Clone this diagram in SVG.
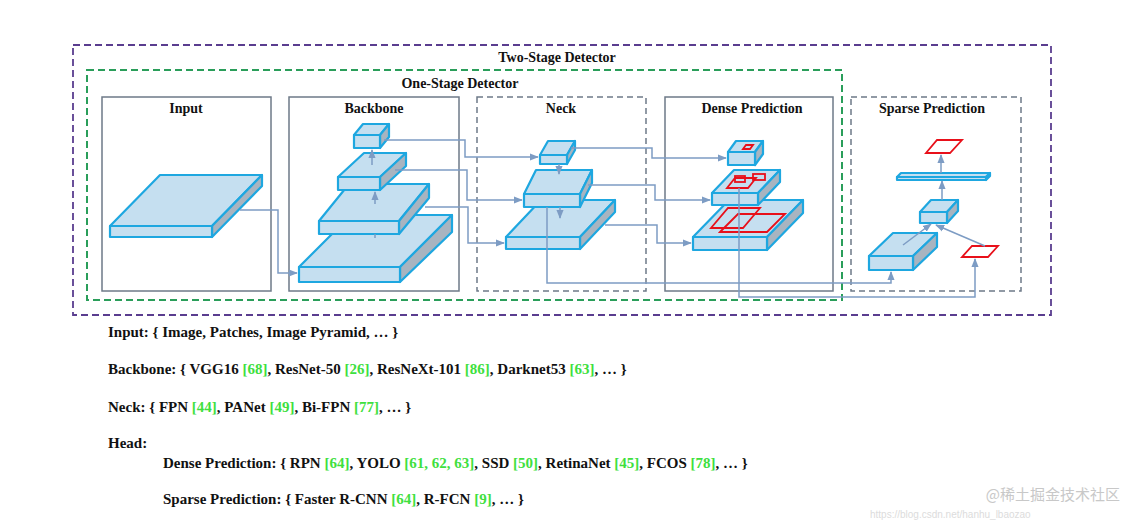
<svg xmlns="http://www.w3.org/2000/svg" width="1135" height="525" viewBox="0 0 1135 525">
<style>
.t{font-family:"Liberation Serif",serif;font-weight:bold;font-size:15px;fill:#111}
.h{font-family:"Liberation Serif",serif;font-weight:bold;font-size:14px;fill:#111;text-anchor:middle}
.g{fill:#3ee03e}
.f{fill:#c5dff0;stroke:#1ea7e0;stroke-width:2.2;stroke-linejoin:round}
.s{fill:#a8b4c0;stroke:#1ea7e0;stroke-width:2.2;stroke-linejoin:round}
.r{fill:none;stroke:#e8101a;stroke-width:1.8}
.c{fill:none;stroke:#7d9cc4;stroke-width:1.5}
.box{fill:none;stroke:#6e7a88;stroke-width:1.5}
.dbox{fill:none;stroke:#6e7a88;stroke-width:1.5;stroke-dasharray:6 4}
</style>
<defs>
<marker id="a" viewBox="0 0 10 10" refX="9" refY="5" markerWidth="6" markerHeight="6" orient="auto"><path d="M0,1 L10,5 L0,9 z" fill="#7d9cc4"/></marker>
</defs>
<rect width="1135" height="525" fill="#fff"/>
<g id="two-stage"><rect x="73" y="45" width="978" height="270" fill="none" stroke="#5a3d8f" stroke-width="1.8" stroke-dasharray="7 4"/><text class="h" x="557" y="62">Two-Stage Detector</text></g>
<g id="one-stage"><rect x="87" y="70" width="755" height="230" fill="none" stroke="#2a9e5a" stroke-width="2" stroke-dasharray="7 4"/><text class="h" x="460" y="88">One-Stage Detector</text></g>
<g id="input"><rect class="box" x="102" y="97" width="169" height="194"/><text class="h" x="186" y="113">Input</text>
<polygon class="f" points="110,226 160,175 262,175 212,226"/><polygon class="s" points="212,226 262,175 262,186 212,237"/><rect class="f" x="110" y="226" width="102" height="11"/></g>
<g id="backbone"><rect class="box" x="289" y="97" width="170" height="194"/><text class="h" x="374" y="113">Backbone</text>
<polygon class="f" points="299,267 351,215 452,215 400,267"/><polygon class="s" points="400,267 452,215 452,232 400,282"/><rect class="f" x="299" y="267" width="101" height="15"/>
<polygon class="f" points="319,221 349,184 429,184 399,221"/><polygon class="s" points="399,221 429,184 429,198 399,234"/><rect class="f" x="319" y="221" width="80" height="13"/>
<polygon class="f" points="338,177 364,153 406,153 380,177"/><polygon class="s" points="380,177 406,153 406,166 380,190"/><rect class="f" x="338" y="177" width="42" height="13"/>
<polygon class="f" points="354,135 363,124 389,124 380,135"/><polygon class="s" points="380,135 389,124 389,137 380,148"/><rect class="f" x="354" y="135" width="26" height="13"/></g>
<g id="neck"><rect class="dbox" x="477" y="97" width="169" height="194"/><text class="h" x="561" y="113">Neck</text>
<polygon class="f" points="506,237 541,200 615,200 580,237"/><polygon class="s" points="580,237 615,200 615,212 580,249"/><rect class="f" x="506" y="237" width="74" height="12"/>
<polygon class="f" points="524,194 536,170 592,170 580,194"/><polygon class="s" points="580,194 592,170 592,183 580,207"/><rect class="f" x="524" y="194" width="56" height="13"/>
<polygon class="f" points="540,155 548,141 575,141 567,155"/><polygon class="s" points="567,155 575,141 575,150 567,164"/><rect class="f" x="540" y="155" width="27" height="9"/></g>
<g id="dense"><rect class="box" x="665" y="97" width="168" height="194"/><text class="h" x="752" y="113">Dense Prediction</text>
<polygon class="f" points="693,237 729,200 803,200 767,237"/><polygon class="s" points="767,237 803,200 803,213 767,250"/><rect class="f" x="693" y="237" width="74" height="13"/>
<polygon class="r" points="711,228 728,208 760,208 743,228"/><polygon class="r" points="720,232 738,214 785,214 767,232"/>
<polygon class="f" points="712,193 734,170 780,170 758,193"/><polygon class="s" points="758,193 780,170 780,182 758,205"/><rect class="f" x="712" y="193" width="46" height="12"/>
<polygon class="r" points="727,188 735,178 756,178 748,188"/><rect class="r" x="735" y="176" width="10" height="6"/><rect class="r" x="753" y="174" width="12" height="6"/>
<polygon class="f" points="728,152 736,141 763,141 755,152"/><polygon class="s" points="755,152 763,141 763,154 755,165"/><rect class="f" x="728" y="152" width="27" height="13"/>
<polygon class="r" points="743,149 746,145 753,145 750,149"/></g>
<g id="sparse"><rect class="dbox" x="851" y="97" width="170" height="194"/><text class="h" x="932" y="113">Sparse Prediction</text>
<polygon class="f" points="869,256 893,233 937,233 913,256"/><polygon class="s" points="913,256 937,233 937,247 913,270"/><rect class="f" x="869" y="256" width="44" height="14"/>
<polygon class="f" points="920,212 931,200 958,200 947,212"/><polygon class="s" points="947,212 958,200 958,211 947,223"/><rect class="f" x="920" y="212" width="27" height="11"/>
<polygon class="f" points="897,177 901,173 990,173 986,177"/><polygon class="s" points="986,177 990,173 990,176 986,180"/><rect class="f" x="897" y="177" width="89" height="3"/>
<polygon class="r" points="926,153 937,140 962,140 950,153"/><polygon class="r" points="962,257 972,246 998,246 988,257"/></g>
<g id="connectors">
<polyline class="c" marker-end="url(#a)" points="240,210 278,210 278,273 297,273"/>
<polyline class="c" marker-end="url(#a)" points="384,140 465,140 465,157 538,157"/>
<polyline class="c" marker-end="url(#a)" points="395,170 467,170 467,200 522,200"/>
<polyline class="c" marker-end="url(#a)" points="425,207 468,207 468,243 504,243"/>
<polyline class="c" marker-end="url(#a)" points="571,148 652,148 652,158 726,158"/>
<polyline class="c" marker-end="url(#a)" points="588,185 655,185 655,200 710,200"/>
<polyline class="c" marker-end="url(#a)" points="605,225 657,225 657,243 691,243"/>
<line class="c" marker-end="url(#a)" x1="559" y1="164" x2="559" y2="174"/>
<line class="c" marker-end="url(#a)" x1="560" y1="207" x2="560" y2="218"/>
<line class="c" marker-end="url(#a)" x1="372" y1="165" x2="372" y2="150"/>
<line class="c" marker-end="url(#a)" x1="375" y1="204" x2="375" y2="192"/>
<line class="c" x1="375" y1="238" x2="375" y2="234"/>
<polyline class="c" marker-end="url(#a)" points="547,207 547,283 891,283 891,272"/>
<polyline class="c" marker-end="url(#a)" points="739,188 739,297 975,297 975,259"/>
<line class="c" stroke-width="2" marker-end="url(#a)" x1="903" y1="245" x2="931" y2="224"/>
<line class="c" stroke-width="2" marker-end="url(#a)" x1="985" y1="246" x2="936" y2="225"/>
<line class="c" stroke-width="2" marker-end="url(#a)" x1="942" y1="200" x2="942" y2="181"/>
<line class="c" stroke-width="2" marker-end="url(#a)" x1="941" y1="173" x2="941" y2="155"/>
</g>
<g id="legend">
<text class="t" x="108" y="337">Input: { Image, Patches, Image Pyramid, … }</text>
<text class="t" x="108" y="374">Backbone: { VGG16 <tspan class="g">[68]</tspan>, ResNet-50 <tspan class="g">[26]</tspan>, ResNeXt-101 <tspan class="g">[86]</tspan>, Darknet53 <tspan class="g">[63]</tspan>, … }</text>
<text class="t" x="108" y="412">Neck: { FPN <tspan class="g">[44]</tspan>, PANet <tspan class="g">[49]</tspan>, Bi-FPN <tspan class="g">[77]</tspan>, … }</text>
<text class="t" x="108" y="448">Head:</text>
<text class="t" x="163" y="468">Dense Prediction: { RPN <tspan class="g">[64]</tspan>, YOLO <tspan class="g">[61, 62, 63]</tspan>, SSD <tspan class="g">[50]</tspan>, RetinaNet <tspan class="g">[45]</tspan>, FCOS <tspan class="g">[78]</tspan>, … }</text>
<text class="t" x="163" y="504">Sparse Prediction: { Faster R-CNN <tspan class="g">[64]</tspan>,  R-FCN <tspan class="g">[9]</tspan>, … }</text>
</g>
<text x="1120" y="500" text-anchor="end" font-family="'Noto Sans CJK SC',sans-serif" font-size="15" fill="#c8c8c8">@稀土掘金技术社区</text>
<text x="870" y="518" font-family="'Liberation Sans',sans-serif" font-size="10" fill="#dcdcdc">https://blog.csdn.net/hanhu_lbaozao</text>
</svg>
